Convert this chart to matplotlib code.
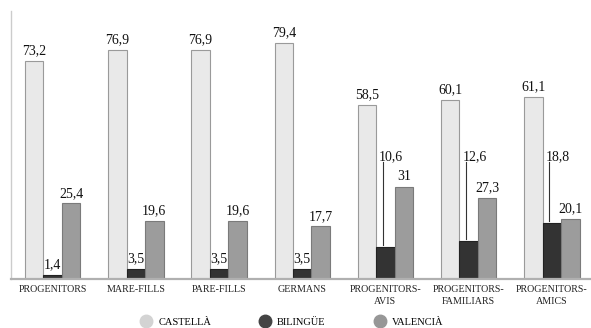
import matplotlib
matplotlib.use("Agg")
import matplotlib.pyplot as plt
from matplotlib.lines import Line2D
import numpy as np

categories = ["PROGENITORS", "MARE-FILLS", "PARE-FILLS", "GERMANS",
              "PROGENITORS-\nAVIS", "PROGENITORS-\nFAMILIARS", "PROGENITORS-\nAMICS"]
castella = [73.2, 76.9, 76.9, 79.4, 58.5, 60.1, 61.1]
bilingue = [1.4, 3.5, 3.5, 3.5, 10.6, 12.6, 18.8]
valencia = [25.4, 19.6, 19.6, 17.7, 31, 27.3, 20.1]
series_names = ["CASTELLÀ", "BILINGÜE", "VALENCIÀ"]
leader_groups = [4, 5, 6]   # bilingüe labels drawn with a leader line
leader_label_y = 41.0

plt.rcParams['font.family'] = ['Liberation Serif', 'DejaVu Serif']

fig = plt.figure(figsize=(5.91, 3.28), dpi=100)
ax = fig.add_axes([11/591, 49/328, 580/591, 268/328])

fills = ["#e9e9e9", "#333333", "#9c9c9c"]
edges = ["#9a9a9a", "#222222", "#7a7a7a"]
marker_cols = ["#d3d3d3", "#444444", "#979797"]
w = 0.222
x = np.arange(len(categories))
data = [castella, bilingue, valencia]

def fmt(v):
    return f"{v:g}".replace('.', ',')

for i, vals in enumerate(data):
    pos = x + (i - 1) * w
    ax.bar(pos, vals, width=w, color=fills[i], edgecolor=edges[i], linewidth=0.8, zorder=2)
    for j, (p, v) in enumerate(zip(pos, vals)):
        if i == 1 and j in leader_groups:
            ax.plot([p - 0.03, p - 0.03], [leader_label_y - 1.8, v + 0.8],
                    color="#333333", linewidth=0.8, zorder=3)
            ax.text(p + 0.07, leader_label_y, fmt(v), ha='center', va='center',
                    fontsize=10, color="#111111")
        else:
            ax.annotate(fmt(v), (p, v), xytext=(0, 2.5), textcoords='offset points',
                        ha='center', va='bottom', fontsize=10, color="#111111")

ax.set_xlim(-0.5, 6.47)
ax.set_ylim(0, 90)
ax.set_yticks([])
ax.set_xticks(x)
ax.set_xticklabels(categories, fontsize=7.2, linespacing=1.35, color="#222222")
ax.tick_params(axis='x', length=0, pad=4.5)
for s in ['top', 'right']:
    ax.spines[s].set_visible(False)
ax.spines['left'].set_color("#cccccc")
ax.spines['left'].set_linewidth(1.0)
ax.spines['bottom'].set_color("#b0b0b0")
ax.spines['bottom'].set_linewidth(1.6)

handles = [Line2D([], [], marker='o', linestyle='none', markersize=9,
                  markerfacecolor=c, markeredgecolor=c) for c in marker_cols]
fig.legend(handles, series_names, loc='center left', bbox_to_anchor=(141/591, 6/328),
           ncol=3, frameon=False, fontsize=7.5, handlelength=1.0, handletextpad=0.65,
           columnspacing=4.7, borderpad=0, borderaxespad=0)

fig.savefig("out.png", dpi=100)
